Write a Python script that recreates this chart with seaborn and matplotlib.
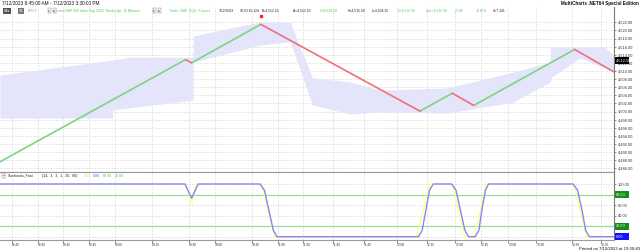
import matplotlib
matplotlib.use("Agg")
import matplotlib.pyplot as plt
import seaborn as sns
import pandas as pd
from matplotlib.transforms import blended_transform_factory as btf

# ---------------- data ----------------
# Renko price path (bar index, price at turning points)
bar_x = [0, 25.2, 26.0, 35.4, 57.0, 61.4, 64.3, 78.0, 83.3]
price = [4487.6, 4512.8, 4512.0, 4521.5, 4500.1, 4504.5, 4501.5, 4515.3, 4509.8]

# channel / band envelope
band_x = [0, 15.3, 15.3, 17.6, 26.2, 26.2, 35.3, 39.4, 42.4, 47.5, 51.6, 60.7, 69.6, 74.7, 74.7, 78.7, 82.1, 83.3]
band_upper = [4509.0, 4512.7, 4512.7, 4513.4, 4513.4, 4518.6, 4522.1, 4522.0, 4508.3, 4507.3, 4505.3, 4505.8, 4509.7, 4512.2, 4515.9, 4515.9, 4515.9, 4513.9]
band_lower = [4498.4, 4498.4, 4500.4, 4500.9, 4502.8, 4512.2, 4516.4, 4517.2, 4501.6, 4499.4, 4499.9, 4499.6, 4502.3, 4507.3, 4508.3, 4513.2, 4510.7, 4509.7]

# Stochastic fast: FastK (yellow) and FastD (blue)
k_x = [0, 25.3, 26.0, 26.6, 35.5, 37.3, 56.6, 58.3, 61.4, 63.1, 64.4, 66.0, 77.9, 79.6, 83.3]
k_y = [100, 100, 62, 100, 100, 0, 0, 100, 100, 0, 0, 100, 100, 0, 0]
d_x = [0, 25.1, 25.6, 26.0, 26.4, 26.9, 35.3, 35.9, 36.5, 37.1, 37.6, 56.8, 57.3, 57.8,
       58.3, 58.8, 61.3, 61.9, 62.5, 63.1, 63.6, 64.5, 65.0, 65.4, 65.9, 66.3, 77.8, 78.4,
       79.0, 79.5, 80.0, 83.3]
d_y = [100, 100, 85, 73, 85, 100, 100, 88, 50, 12, 0, 0, 12, 50, 88, 100, 100, 88, 50, 12,
       0, 0, 12, 50, 88, 100, 100, 88, 50, 12, 0, 0]

tick_pos = [1.6, 5.1, 8.6, 12.1, 15.6, 20.6, 25.7, 29.2, 34.2, 37.7, 41.1, 45.2, 49.4,
            53.9, 57.9, 61.8, 65.3, 69.0, 72.8, 77.6, 81.6]
tick_labels = ["08:45", "08:45", "08:45", "08:45", "09:00", "09:15", "09:30", "10:00",
               "10:30", "11:00", "11:30", "11:45", "11:45", "12:00", "12:15", "12:30",
               "12:45", "13:00", "13:30", "14:30", "15:00"]
price_ticks = list(range(4486, 4523, 2))
stoch_ticks = [0, 20, 40, 60, 80, 100]
last_price = 4512.50
levels = [80, 20]

# ---------------- style ----------------
sns.set_theme(style="white")
plt.rcParams["font.family"] = ["Liberation Sans", "DejaVu Sans"]

W, H = 640, 252
fig = plt.figure(figsize=(6.4, 2.52), dpi=100)


def fx(px):
    return px / W


def fy(py):
    return 1 - py / H


XMAX = 83.3
ax = fig.add_axes([0, fy(171.5), fx(613.7), fy(7) - fy(171.5)])
ax2 = fig.add_axes([0, fy(240), fx(613.7), fy(172) - fy(240)])

GRID = dict(color="#d2d2d2", lw=0.5, ls=(0, (2, 2)))

# ---- main panel ----
ax.fill_between(band_x, band_lower, band_upper, color="#e4e4fb", lw=0, zorder=1)
rows = []
for i in range(len(bar_x) - 1):
    d = "up" if price[i + 1] > price[i] else "down"
    rows.append(dict(seg=i, x=bar_x[i], y=price[i], dir=d))
    rows.append(dict(seg=i, x=bar_x[i + 1], y=price[i + 1], dir=d))
df = pd.DataFrame(rows)
sns.lineplot(data=df, x="x", y="y", hue="dir", units="seg", estimator=None, sort=False,
             palette={"up": "#7fd47f", "down": "#f0707c"}, lw=1.2, legend=False, ax=ax, zorder=3)

ax.set_xlim(0, XMAX)
ax.set_ylim(4486 - 3.2 / 4.056, 4522 + 15.3 / 4.056)
ax.set_xticks(tick_pos)
ax.set_yticks(price_ticks)
ax.set_yticklabels([f"{v:,.2f}" for v in price_ticks])
ax.yaxis.tick_right()
ax.tick_params(axis="y", labelsize=2.8, length=1.5, width=0.4, pad=1.2, colors="#333333")
ax.tick_params(axis="x", bottom=False, labelbottom=False)
ax.set_xlabel("")
ax.set_ylabel("")
ax.grid(True, axis="both", **GRID)
ax.set_axisbelow(True)
for s in ["left", "top"]:
    ax.spines[s].set_visible(False)
ax.spines["right"].set_color("#7a7a7a")
ax.spines["right"].set_linewidth(0.8)
ax.spines["bottom"].set_color("#9a9a9a")
ax.spines["bottom"].set_linewidth(0.8)

tr = btf(ax.transAxes, ax.transData)
ax.text(1.004, last_price, "          ", transform=tr, fontsize=2.8, va="center", ha="left",
        zorder=9, clip_on=False, bbox=dict(boxstyle="square,pad=0.35", fc="black", ec="none"))
ax.text(1.004, last_price, f"{last_price:,.2f}", transform=tr, fontsize=2.8, color="white",
        va="center", ha="left", zorder=10, clip_on=False)
# high marker
ax.plot([bar_x[3]], [0.945], transform=btf(ax.transData, ax.transAxes), marker="s",
        ms=1.6, color="#ff2020", clip_on=False, zorder=10)

# ---- stochastic panel ----
for lv in levels:
    ax2.axhline(lv, color="#9ed89e", lw=0.9, zorder=2)
sns.lineplot(x=k_x, y=k_y, color="#ffff80", lw=1.0, ax=ax2, zorder=3, sort=False)
sns.lineplot(x=d_x, y=d_y, color="#8585ff", lw=1.0, ax=ax2, zorder=4, sort=False)
ax2.set_xlim(0, XMAX)
ax2.set_ylim(-3.3 / 0.527, 100 + 12 / 0.527)
ax2.set_xticks(tick_pos)
ax2.set_xticklabels(tick_labels)
for lab in ax2.get_xticklabels():
    lab.set_ha("left")
ax2.set_yticks(stoch_ticks)
ax2.set_yticklabels(["" if v in (0, 20, 80) else f"{v:.2f}" for v in stoch_ticks])
ax2.yaxis.tick_right()
ax2.tick_params(axis="y", labelsize=2.8, length=1.5, width=0.4, pad=1.2, colors="#333333")
ax2.tick_params(axis="x", labelsize=2.3, length=2, width=0.4, pad=0.1, colors="#333333",
                bottom=True)
ax2.set_xlabel("")
ax2.set_ylabel("")
ax2.grid(True, axis="both", **GRID)
ax2.set_axisbelow(True)
ax2.spines["left"].set_visible(False)
ax2.spines["right"].set_color("#7a7a7a")
ax2.spines["right"].set_linewidth(0.8)
for s in ["top", "bottom"]:
    ax2.spines[s].set_color("#9a9a9a")
    ax2.spines[s].set_linewidth(0.8)

tr2 = btf(ax2.transAxes, ax2.transData)
for v, fc in [(80, "#168c16"), (20, "#168c16"), (0, "#1010ff")]:
    ax2.text(1.004, v, "          ", transform=tr2, fontsize=2.8, va="center", ha="left",
             zorder=9, clip_on=False, bbox=dict(boxstyle="square,pad=0.35", fc=fc, ec="none"))
    ax2.text(1.004, v, f"{v:.2f}", transform=tr2, fontsize=2.8, color="white", va="center",
             ha="left", zorder=10, clip_on=False)

# ---- texts ----
fig.text(fx(2), fy(3.6), "7/12/2023 8:45:00 AM - 7/12/2023 3:30:00 PM", fontsize=3.4,
         color="#111111", va="center", ha="left")
fig.text(fx(639), fy(3.6), "MultiCharts .NET64 Special Edition", fontsize=3.3,
         fontweight="bold", color="#111111", va="center", ha="right")

G = "#4fc84f"
K = "#222222"
row = fy(10.8)
fig.text(fx(4), row, "SA\u25be", fontsize=2.4, color="white", va="center", ha="left",
         bbox=dict(boxstyle="square,pad=0.3", fc="#555555", ec="none"))
fig.text(fx(18.5), row, "VB", fontsize=2.4, color="white", va="center", ha="left",
         bbox=dict(boxstyle="square,pad=0.3", fc="#777777", ec="none"))
pieces = [
    (27.3, "EPICT", G), (55, "E-mini S&P 500 Index Sep 2023  Renko 1pt, 15 Minutes", G),
    (169.3, "Trade  CME  CQG  Futures", G), (218.3, "7/12/2023", K), (239.3, "18:30:15.124", K),
    (261.7, "B=4,512.25", K), (292.7, "A=4,512.50", K), (320, "O=4,510.50", G),
    (347.3, "H=4,515.50", K), (371.7, "L=4,508.25", K), (397.7, "C=4,512.50", G),
    (426, "Last=4,512.50", G), (455, "+3.00", G), (476, "+0.07%", G), (492.7, "V=7,141", K),
]
for x, s, c in pieces:
    fig.text(fx(x), row, s, fontsize=2.4, color=c, va="center", ha="left")
for x in (48.3, 153.3):
    fig.text(fx(x), row, "\u25be", fontsize=2.4, color="#333333", va="center", ha="left",
             bbox=dict(boxstyle="square,pad=0.2", fc="white", ec="#777777", lw=0.3))
    fig.text(fx(x + 5), row, "\u2261", fontsize=2.4, color="#333333", va="center", ha="left",
             bbox=dict(boxstyle="square,pad=0.2", fc="white", ec="#777777", lw=0.3))

srow = fy(175.8)
fig.text(fx(2.7), srow, "\u2212", fontsize=2.4, color="#333333", va="center", ha="left",
         bbox=dict(boxstyle="square,pad=0.2", fc="white", ec="#777777", lw=0.3))
for x, s, c in [(8.3, "Stochastic_Fast", K), (41.7, "(14,  3,  3,  1,  20,  80)", K),
                (84, "0.00", "#e0e060"), (93.3, "0.00", "#6060ff"),
                (102.7, "80.00", G), (115, "20.00", G)]:
    fig.text(fx(x), srow, s, fontsize=2.6, color=c, va="center", ha="left")

fig.text(fx(639.5), fy(249), "Printed on 7/12/2023 at 19:30:40", fontsize=3.1,
         color="#111111", va="center", ha="right")

fig.savefig("out.png", dpi=100)
